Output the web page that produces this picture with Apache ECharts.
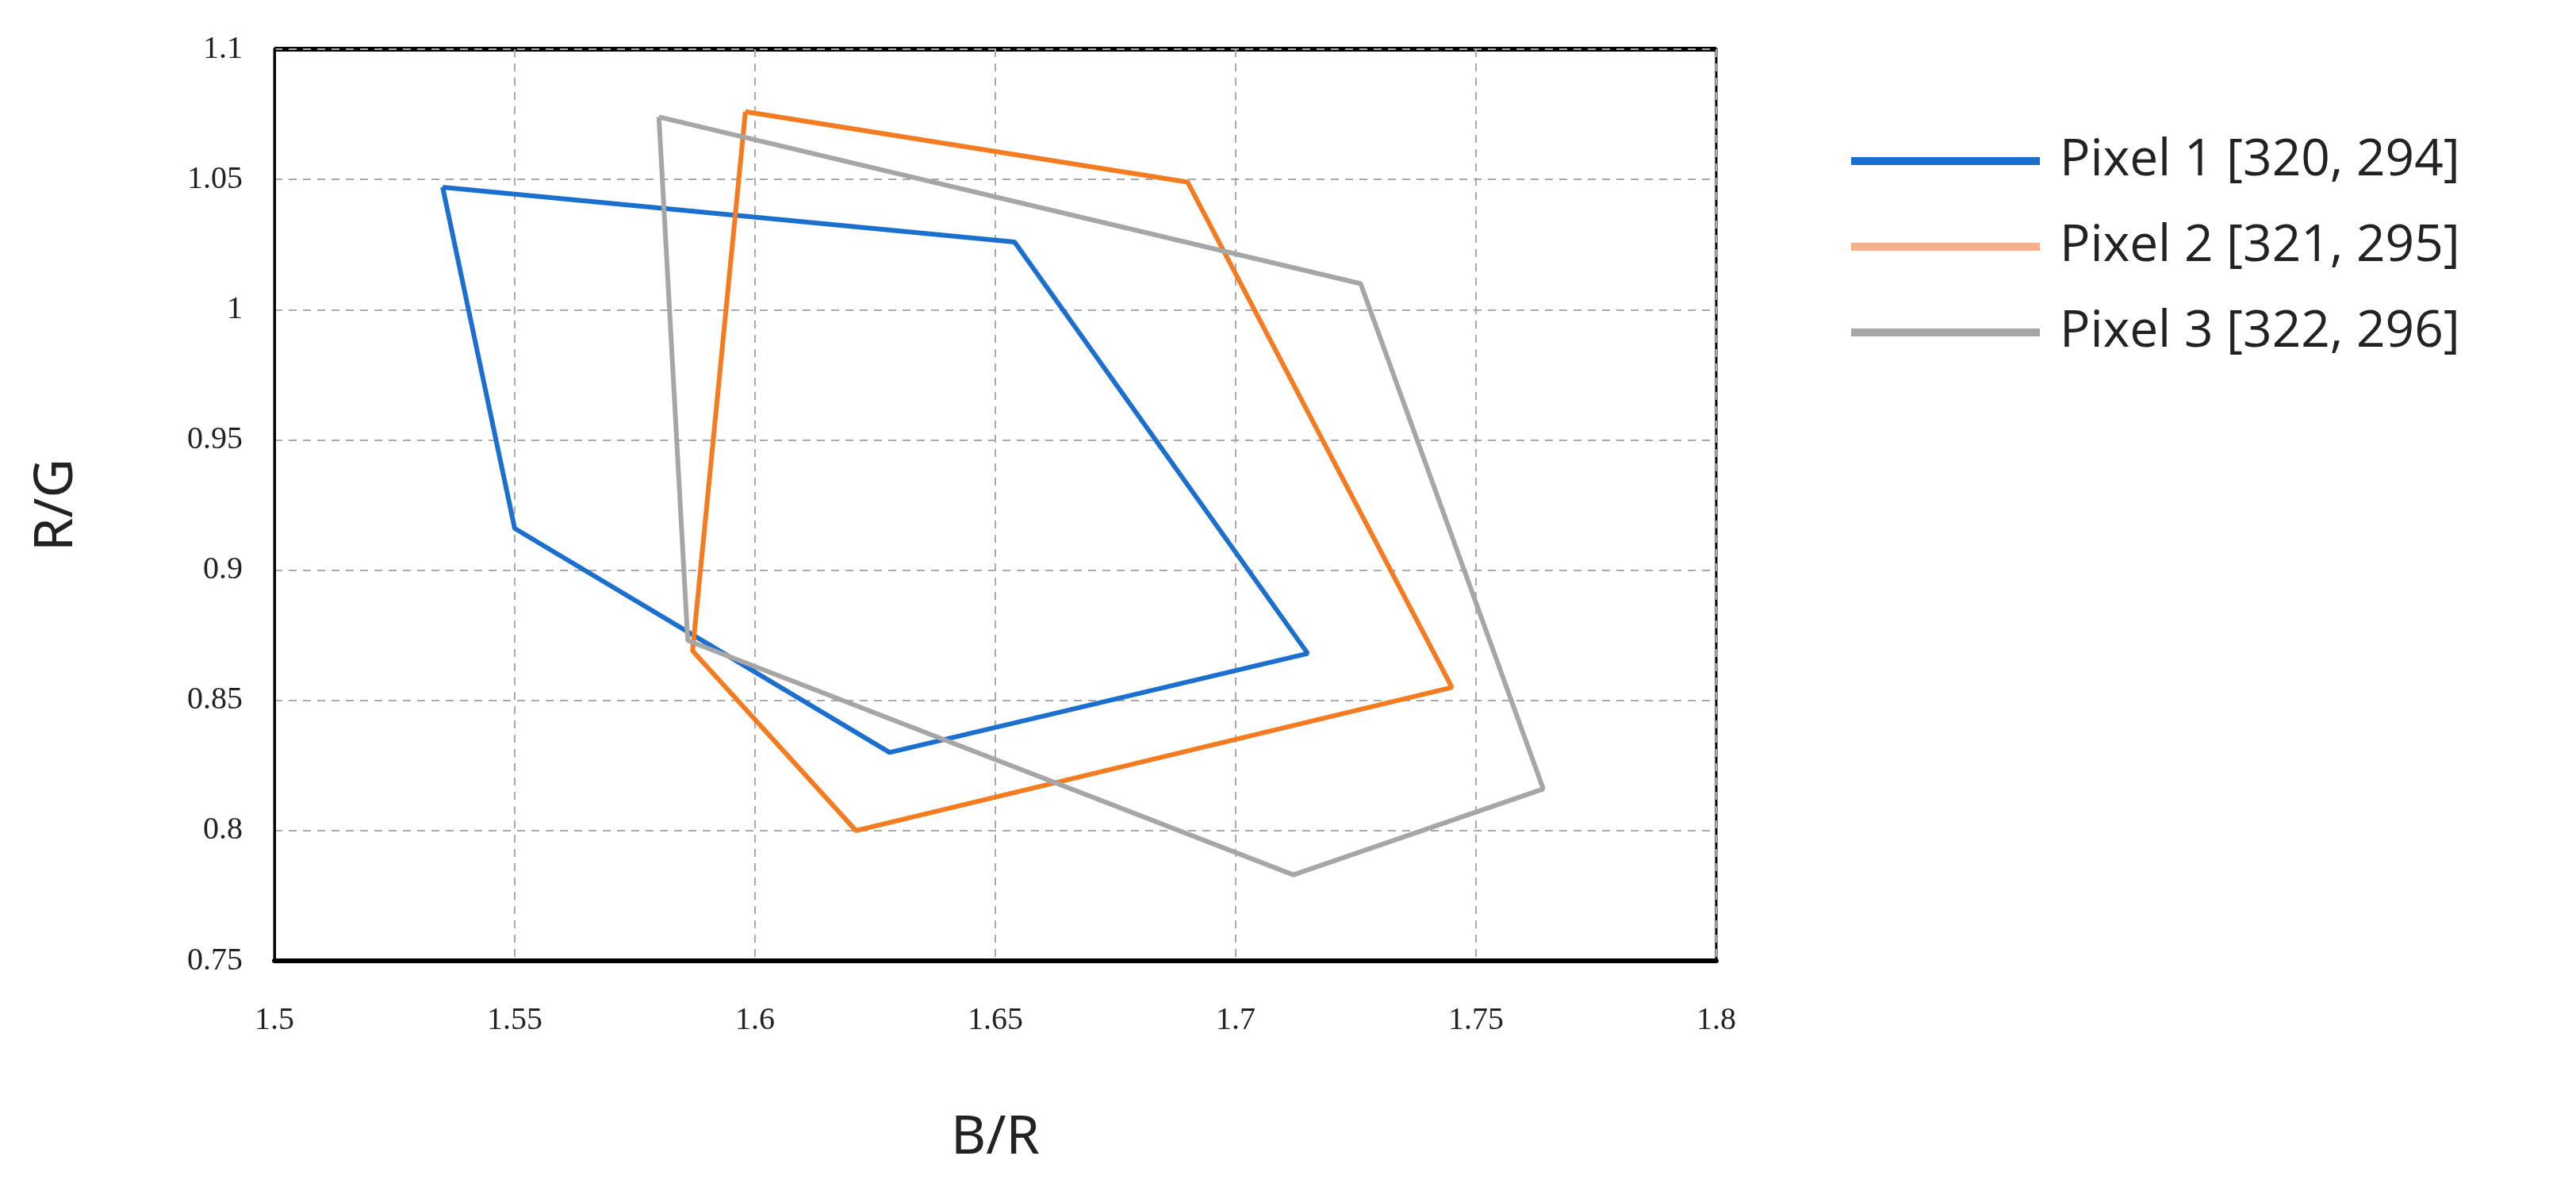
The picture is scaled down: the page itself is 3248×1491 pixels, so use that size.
<!DOCTYPE html><html><head><meta charset="utf-8"><script src="https://cdn.jsdelivr.net/npm/echarts@6/dist/echarts.min.js"></script>
<style>html,body{margin:0;padding:0;background:#fff}#c{width:3248px;height:1491px}</style></head><body><div id="c"></div><script>
const names=['Pixel 1 [320, 294]','Pixel 2 [321, 295]','Pixel 3 [322, 296]'];
const colors=['#1a6fcf','#f47b20','#a6a6a6'];
const legendColors=['#1a6fcf','#f8b08a','#a6a6a6'];
const pixel1=[[1.535,1.047],[1.654,1.026],[1.715,0.868],[1.628,0.830],[1.550,0.916],[1.535,1.047]];
const pixel2=[[1.598,1.076],[1.690,1.049],[1.745,0.855],[1.621,0.800],[1.587,0.869],[1.598,1.076]];
const pixel3=[[1.580,1.074],[1.726,1.010],[1.764,0.816],[1.712,0.783],[1.586,0.873],[1.580,1.074]];
const data=[pixel1,pixel2,pixel3];
const chart=echarts.init(document.getElementById('c'));
const serif={fontFamily:'Liberation Serif',fontSize:40,color:'#222'};
chart.setOption({
 animation:false,
 grid:{left:346,right:1084,top:62,bottom:280,show:true,borderColor:'#000',borderWidth:3},
 xAxis:{type:'value',min:1.5,max:1.8,interval:0.05,name:'B/R',nameLocation:'middle',nameGap:190,
  nameTextStyle:{fontFamily:'Noto Sans',fontSize:68,color:'#222'},
  axisLine:{show:true,lineStyle:{color:'#000',width:6}},axisTick:{show:false},
  axisLabel:{...serif,margin:55,formatter:v=>String(+v.toFixed(2))},
  splitLine:{show:true,lineStyle:{type:[10,8],color:'#aaa',width:2}}},
 yAxis:{type:'value',min:0.75,max:1.1,interval:0.05,name:'R/G',nameLocation:'middle',nameGap:240,
  nameTextStyle:{fontFamily:'Noto Sans',fontSize:68,color:'#222'},
  axisLine:{show:true,lineStyle:{color:'#000',width:3}},axisTick:{show:false},
  axisLabel:{...serif,margin:40,formatter:v=>String(+v.toFixed(2))},
  splitLine:{show:true,lineStyle:{type:[10,8],color:'#aaa',width:2}}},
 legend:{orient:'vertical',left:2329,top:166,itemWidth:238,itemHeight:10,itemGap:44,icon:'rect',
  textStyle:{fontFamily:'Open Sans',fontSize:64,color:'#222',padding:[0,0,0,20]},
  data:names.map((n,i)=>({name:n,itemStyle:{color:legendColors[i]}}))},
 graphic:[{type:'rect',shape:{x:346,y:59,width:1818,height:6},style:{fill:'#000'}}],
 series:data.map((d,i)=>({name:names[i],type:'line',data:d,showSymbol:false,
  lineStyle:{color:colors[i],width:6},itemStyle:{color:colors[i]}}))
});
</script></body></html>
